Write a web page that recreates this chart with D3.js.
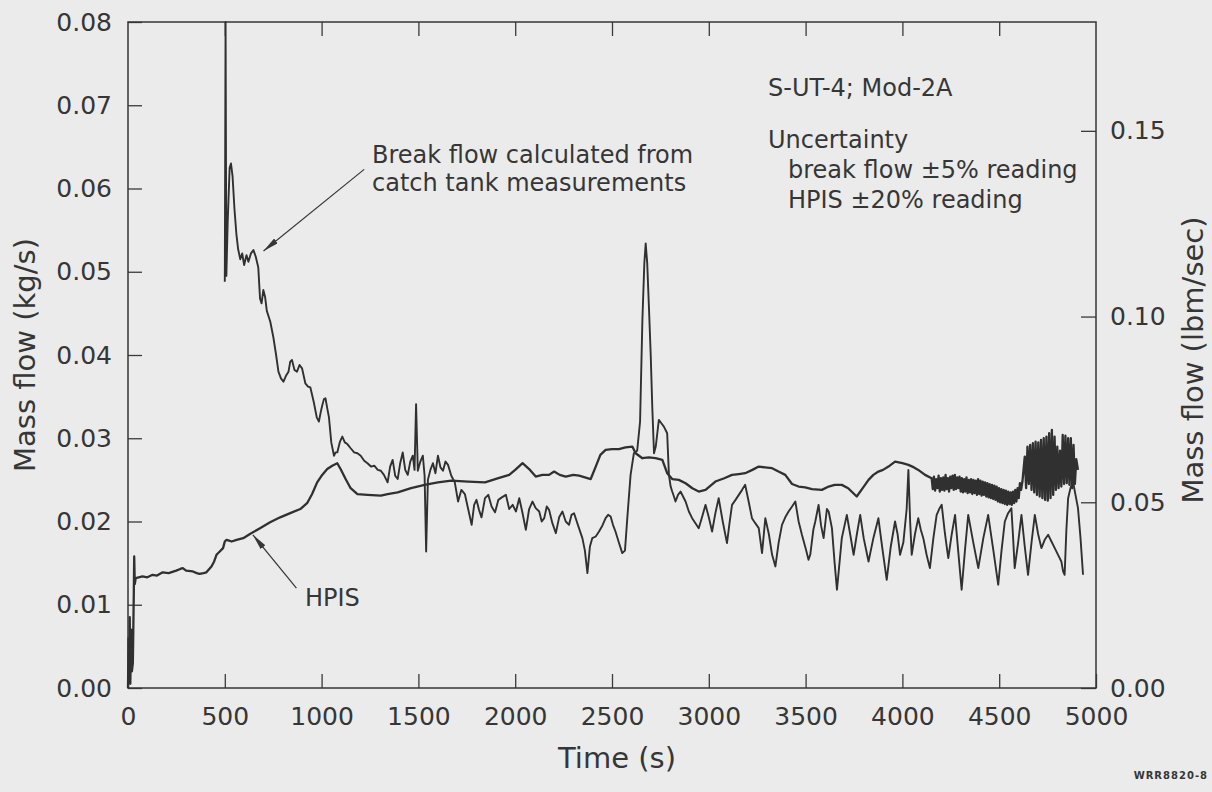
<!DOCTYPE html>
<html lang="en">
<head>
<meta charset="UTF-8">
<title>S-UT-4 mass flow</title>
<script src="https://d3js.org/d3.v7.min.js"></script>
<style>
  html, body { margin: 0; background: #ebebeb; }
  svg { display: block; }
  text { font-family: "DejaVu Sans", sans-serif; fill: #363636; }
  .tick text { font-size: 25px; }
  .tick line { stroke: #3a3a3a; stroke-width: 1.3; }
  .curve { fill: none; stroke: #303030; stroke-linejoin: round; }
</style>
</head>
<body>
<div id="chart"></div>
<script>
// axis ticks
const xTicks = [0, 500, 1000, 1500, 2000, 2500, 3000, 3500, 4000, 4500, 5000];
const yTicks = [0, 0.01, 0.02, 0.03, 0.04, 0.05, 0.06, 0.07, 0.08];
const yRightTicks = [0, 0.05, 0.10, 0.15];

// break flow from catch tank (kg/s)
const breakTime = [500,504,508,515,525,532,540,550,560,569,580,590,600,612,622,635,648,660,673,682,690,699,708,717,735,751,765,777,790,803,816,829,838,847,860,873,886,899,916,930,942,960,975,986,996,1003,1012,1020,1030,1038,1050,1064,1072,1081,1095,1107,1120,1133,1150,1168,1185,1202,1220,1237,1255,1272,1290,1306,1322,1341,1354,1367,1380,1393,1406,1419,1432,1445,1458,1471,1480,1488,1497,1510,1523,1532,1540,1549,1562,1575,1588,1601,1614,1627,1640,1653,1670,1688,1705,1722,1740,1757,1775,1788,1800,1813,1826,1844,1861,1878,1896,1913,1931,1952,1969,1987,2004,2021,2038,2055,2072,2089,2106,2124,2137,2150,2163,2175,2192,2210,2227,2244,2261,2278,2291,2304,2325,2347,2360,2373,2386,2398,2416,2433,2450,2467,2480,2493,2505,2518,2535,2553,2567,2579,2596,2613,2630,2645,2657,2667,2674,2682,2691,2700,2708,2717,2726,2734,2742,2755,2768,2785,2794,2803,2811,2820,2828,2841,2854,2867,2880,2897,2914,2931,2948,2966,2983,3000,3017,3034,3051,3072,3094,3107,3120,3138,3155,3172,3188,3205,3223,3240,3258,3275,3292,3310,3327,3344,3361,3378,3395,3412,3430,3447,3464,3481,3500,3515,3524,3540,3550,3567,3580,3593,3610,3619,3636,3650,3662,3675,3687,3713,3730,3748,3765,3782,3800,3825,3850,3876,3895,3919,3940,3962,3975,3988,4005,4022,4031,4040,4048,4065,4082,4095,4108,4125,4142,4160,4177,4190,4203,4220,4237,4255,4272,4290,4306,4323,4340,4366,4392,4418,4443,4470,4495,4512,4529,4546,4563,4572,4580,4598,4615,4632,4649,4667,4684,4701,4718,4735,4753,4770,4787,4804,4821,4830,4838,4847,4856,4868,4881,4894,4907,4920,4933];
const breakFlow = [0.0488,0.0800,0.0495,0.0560,0.0625,0.0630,0.0615,0.0575,0.0545,0.0527,0.0515,0.0522,0.0508,0.0520,0.0512,0.0522,0.0526,0.0518,0.0505,0.0468,0.0462,0.0478,0.0470,0.0453,0.0440,0.0421,0.0400,0.0380,0.0372,0.0368,0.0375,0.0380,0.0392,0.0394,0.0382,0.0380,0.0388,0.0384,0.0366,0.0362,0.0361,0.0343,0.0325,0.0320,0.0332,0.0339,0.0347,0.0348,0.0335,0.0325,0.0295,0.0279,0.0283,0.0283,0.0296,0.0302,0.0295,0.0293,0.0288,0.0283,0.0282,0.0279,0.0273,0.0270,0.0266,0.0267,0.0262,0.0261,0.0256,0.0247,0.0266,0.0274,0.0255,0.0251,0.0270,0.0283,0.0262,0.0256,0.0272,0.0279,0.0262,0.0341,0.0261,0.0272,0.0279,0.0255,0.0164,0.0250,0.0262,0.0270,0.0258,0.0279,0.0265,0.0261,0.0272,0.0268,0.0255,0.0247,0.0224,0.0238,0.0233,0.0215,0.0196,0.0220,0.0226,0.0214,0.0205,0.0228,0.0232,0.0218,0.0211,0.0226,0.0229,0.0232,0.0215,0.0220,0.0212,0.0228,0.0210,0.0190,0.0215,0.0224,0.0216,0.0212,0.0200,0.0204,0.0218,0.0214,0.0198,0.0186,0.0205,0.0212,0.0200,0.0196,0.0208,0.0210,0.0195,0.0180,0.0165,0.0138,0.0170,0.0180,0.0182,0.0188,0.0195,0.0204,0.0208,0.0206,0.0196,0.0188,0.0175,0.0162,0.0165,0.0204,0.0256,0.0282,0.0285,0.0320,0.0442,0.0510,0.0534,0.0510,0.0456,0.0400,0.0338,0.0282,0.0290,0.0306,0.0322,0.0318,0.0314,0.0306,0.0256,0.0242,0.0236,0.0230,0.0224,0.0232,0.0236,0.0230,0.0224,0.0212,0.0204,0.0198,0.0192,0.0206,0.0220,0.0205,0.0188,0.0210,0.0228,0.0200,0.0174,0.0198,0.0220,0.0226,0.0232,0.0238,0.0244,0.0225,0.0204,0.0198,0.0192,0.0162,0.0204,0.0185,0.0160,0.0146,0.0175,0.0196,0.0205,0.0212,0.0218,0.0224,0.0200,0.0184,0.0168,0.0154,0.0160,0.0190,0.0200,0.0220,0.0195,0.0180,0.0215,0.0212,0.0192,0.0150,0.0118,0.0150,0.0180,0.0208,0.0185,0.0160,0.0185,0.0208,0.0180,0.0152,0.0180,0.0204,0.0170,0.0130,0.0170,0.0200,0.0185,0.0160,0.0175,0.0215,0.0262,0.0200,0.0160,0.0185,0.0204,0.0190,0.0180,0.0160,0.0144,0.0180,0.0208,0.0215,0.0220,0.0185,0.0156,0.0185,0.0208,0.0160,0.0118,0.0165,0.0208,0.0175,0.0144,0.0180,0.0208,0.0165,0.0124,0.0165,0.0200,0.0210,0.0216,0.0180,0.0144,0.0175,0.0208,0.0170,0.0136,0.0175,0.0208,0.0185,0.0168,0.0178,0.0184,0.0176,0.0168,0.0160,0.0152,0.0140,0.0136,0.0190,0.0228,0.0240,0.0248,0.0232,0.0216,0.0180,0.0136];

// HPIS injection flow (kg/s)
const hpisTime = [0,3,6,9,12,16,20,25,30,32,35,40,75,100,127,150,179,210,249,270,283,300,335,355,370,390,405,431,445,457,474,491,500,509,522,535,561,595,630,682,734,786,838,890,925,951,977,1003,1029,1055,1081,1098,1124,1150,1185,1237,1306,1341,1393,1462,1532,1601,1670,1757,1844,1913,1969,2000,2038,2072,2106,2140,2175,2201,2230,2261,2300,2330,2360,2390,2416,2440,2467,2500,2536,2570,2605,2622,2657,2690,2725,2760,2785,2811,2845,2880,2915,2948,2983,3034,3080,3120,3155,3188,3225,3258,3290,3327,3360,3395,3430,3464,3498,3533,3584,3619,3650,3687,3720,3764,3795,3825,3850,3876,3900,3928,3962,4000,4031,4060,4082,4117,
  4151,4157,4163,4169,4175,4181,4187,4193,4199,4205,4211,4217,4223,4229,4235,4241,4247,4253,4259,4265,4271,4277,4283,4289,4295,4301,4307,4313,4319,4325,4331,4337,4343,4349,4355,4361,4367,4373,4379,4385,4391,4397,4403,4409,4415,4421,4427,4433,4439,4445,4451,4457,4463,4469,4475,4481,4487,4493,4499,4505,4511,4517,4523,4529,4535,4541,4547,4553,4559,4565,4571,4577,4583,4589,4595,4601,4607,4613,4620,
  4632,4639,4646,4653,4660,4667,4674,4681,4688,4695,4702,4709,4716,4723,4730,4737,4744,4751,4758,4765,4772,4779,4786,4793,4800,4807,4814,4821,4828,4835,4842,4849,4856,4863,4870,4877,4884,4891,4898,4907];
const hpisFlow = [0.0000,0.0060,0.0010,0.0085,0.0005,0.0070,0.0020,0.0030,0.0115,0.0158,0.0125,0.0132,0.0134,0.0133,0.0136,0.0135,0.0139,0.0138,0.0141,0.0143,0.0144,0.0141,0.0140,0.0138,0.0137,0.0138,0.0139,0.0146,0.0152,0.0160,0.0164,0.0168,0.0176,0.0178,0.0177,0.0176,0.0178,0.0180,0.0185,0.0192,0.0199,0.0205,0.0210,0.0215,0.0222,0.0233,0.0247,0.0256,0.0263,0.0267,0.0270,0.0263,0.0251,0.0240,0.0233,0.0232,0.0231,0.0233,0.0235,0.0240,0.0244,0.0247,0.0249,0.0248,0.0247,0.0252,0.0256,0.0262,0.0270,0.0263,0.0254,0.0256,0.0256,0.0260,0.0256,0.0254,0.0256,0.0255,0.0253,0.0251,0.0266,0.0280,0.0286,0.0287,0.0287,0.0289,0.0290,0.0282,0.0276,0.0277,0.0276,0.0274,0.0258,0.0251,0.0250,0.0246,0.0240,0.0236,0.0238,0.0248,0.0252,0.0256,0.0257,0.0258,0.0262,0.0266,0.0265,0.0264,0.0260,0.0256,0.0245,0.0242,0.0241,0.0239,0.0238,0.0242,0.0244,0.0244,0.0240,0.0230,0.0240,0.0250,0.0256,0.0260,0.0262,0.0266,0.0272,0.0270,0.0268,0.0265,0.0262,0.0256,
  0.0252,0.0239,0.0254,0.0237,0.0251,0.0240,0.0255,0.0236,0.0252,0.0238,0.0253,0.0237,0.0256,0.0239,0.0252,0.0236,0.0254,0.0240,0.0255,0.0238,0.0256,0.0239,0.0253,0.0240,0.0254,0.0236,0.0252,0.0235,0.0251,0.0236,0.0253,0.0234,0.0250,0.0235,0.0251,0.0233,0.0250,0.0234,0.0249,0.0232,0.0251,0.0233,0.0249,0.0231,0.0248,0.0232,0.0247,0.0230,0.0246,0.0229,0.0245,0.0228,0.0244,0.0227,0.0243,0.0226,0.0242,0.0224,0.0240,0.0223,0.0239,0.0222,0.0238,0.0221,0.0237,0.0220,0.0236,0.0221,0.0235,0.0220,0.0236,0.0222,0.0238,0.0224,0.0240,0.0228,0.0246,0.0238,0.0248,
  0.0278,0.0240,0.0290,0.0245,0.0292,0.0238,0.0294,0.0235,0.0296,0.0232,0.0295,0.0230,0.0298,0.0228,0.0300,0.0226,0.0302,0.0225,0.0306,0.0228,0.0310,0.0232,0.0302,0.0238,0.0290,0.0240,0.0285,0.0242,0.0304,0.0245,0.0303,0.0246,0.0300,0.0244,0.0300,0.0240,0.0292,0.0245,0.0275,0.0262];

const W = 1212, H = 792;
const plot = { left: 128, right: 1096, top: 22, bottom: 688 };
const ink = "#363636";

const svg = d3.select("#chart").append("svg")
    .attr("width", W)
    .attr("height", H);

const x = d3.scaleLinear().domain([0, 5000]).range([plot.left, plot.right]);
const y = d3.scaleLinear().domain([0, 0.08]).range([plot.bottom, plot.top]);
// right axis in lbm/s, fitted to the printed tick marks
const y2 = d3.scaleLinear().domain([0, 0.1793]).range([plot.bottom, plot.top]);

// axes, ticks pointing inward
svg.append("g")
    .attr("transform", `translate(0,${plot.bottom})`)
    .call(d3.axisBottom(x).tickValues(xTicks).tickSize(-14).tickPadding(19).tickFormat(d3.format("d")))
    .call(g => g.select(".domain").remove());

svg.append("g")
    .attr("transform", `translate(0,${plot.top})`)
    .call(d3.axisTop(x).tickValues(xTicks.slice(1, -1)).tickSize(-14).tickFormat(""))
    .call(g => g.select(".domain").remove());

svg.append("g")
    .attr("transform", `translate(${plot.left},0)`)
    .call(d3.axisLeft(y).tickValues(yTicks).tickSize(-14).tickPadding(16).tickFormat(d3.format(".2f")))
    .call(g => g.select(".domain").remove());

svg.append("g")
    .attr("transform", `translate(${plot.right},0)`)
    .call(d3.axisRight(y2).tickValues(yRightTicks).tickSize(-15).tickPadding(14).tickFormat(d3.format(".2f")))
    .call(g => g.select(".domain").remove());

// frame
svg.append("rect")
    .attr("x", plot.left).attr("y", plot.top)
    .attr("width", plot.right - plot.left)
    .attr("height", plot.bottom - plot.top)
    .attr("fill", "none")
    .attr("stroke", ink)
    .attr("stroke-width", 1.5);

// curves
const line = d3.line()
    .x(d => x(d[0]))
    .y(d => y(d[1]));

svg.append("path")
    .datum(d3.zip(hpisTime, hpisFlow))
    .attr("class", "curve")
    .attr("stroke-width", 2.3)
    .attr("d", line);

svg.append("path")
    .datum(d3.zip(breakTime, breakFlow))
    .attr("class", "curve")
    .attr("stroke-width", 1.9)
    .attr("d", line);

// axis titles
svg.append("text")
    .attr("transform", `translate(35,355) rotate(-90)`)
    .attr("text-anchor", "middle")
    .style("font-size", "29px")
    .text("Mass flow (kg/s)");

svg.append("text")
    .attr("transform", `translate(1203,360) rotate(-90)`)
    .attr("text-anchor", "middle")
    .style("font-size", "29px")
    .text("Mass flow (lbm/sec)");

svg.append("text")
    .attr("x", 617).attr("y", 768)
    .attr("text-anchor", "middle")
    .style("font-size", "29px")
    .text("Time (s)");

// arrow markers
svg.append("defs").append("marker")
    .attr("id", "head")
    .attr("viewBox", "0 0 16 6")
    .attr("refX", 16).attr("refY", 3)
    .attr("markerWidth", 16).attr("markerHeight", 6)
    .attr("markerUnits", "userSpaceOnUse")
    .attr("orient", "auto")
    .append("path")
    .attr("d", "M0,0 L16,3 L0,6 Z")
    .attr("fill", ink);

const arrows = [
    { from: [1220, 0.0623], to: [700, 0.0525] },
    { from: [870, 0.0120], to: [645, 0.0184] }
];
svg.selectAll(".arrow")
    .data(arrows)
    .enter()
    .append("line")
    .attr("class", "arrow")
    .attr("x1", d => x(d.from[0])).attr("y1", d => y(d.from[1]))
    .attr("x2", d => x(d.to[0])).attr("y2", d => y(d.to[1]))
    .attr("stroke", ink)
    .attr("stroke-width", 1.2)
    .attr("marker-end", "url(#head)");

// notes
const notes = [
    { x: 372, y: 163, t: "Break flow calculated from" },
    { x: 372, y: 191, t: "catch tank measurements" },
    { x: 305, y: 606, t: "HPIS" },
    { x: 768, y: 96, t: "S-UT-4; Mod-2A" },
    { x: 768, y: 148, t: "Uncertainty" },
    { x: 788, y: 178, t: "break flow \u00b15% reading" },
    { x: 788, y: 208, t: "HPIS \u00b120% reading" }
];
svg.selectAll(".note")
    .data(notes)
    .enter()
    .append("text")
    .attr("class", "note")
    .attr("x", d => d.x)
    .attr("y", d => d.y)
    .style("font-size", "24px")
    .text(d => d.t);

svg.append("text")
    .attr("x", 1208).attr("y", 779)
    .attr("text-anchor", "end")
    .style("font-size", "10px")
    .style("font-weight", "bold")
    .style("letter-spacing", "1px")
    .text("WRR8820-8");
</script>
</body>
</html>
